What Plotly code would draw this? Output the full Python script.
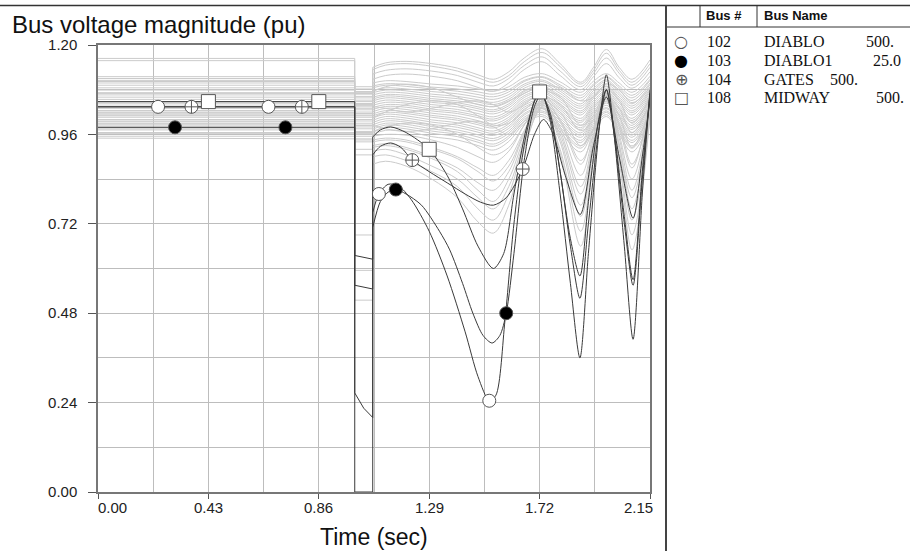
import plotly.graph_objects as go

# ------------------------------------------------------------------ data
T_START, T_FAULT, T_CLEAR, T_END = 0.0, 1.0, 1.07, 2.15

X_TICKS = [0.00, 0.43, 0.86, 1.29, 1.72, 2.15]
X_TICK_TEXT = ["0.00", "0.43", "0.86", "1.29", "1.72", "2.15"]
Y_TICKS = [0.00, 0.24, 0.48, 0.72, 0.96, 1.20]
Y_TICK_TEXT = ["0.00", "0.24", "0.48", "0.72", "0.96", "1.20"]

# ---- grey (other) buses: prefault level, level during fault, post-fault swing
GRAY_T = [1.07, 1.12, 1.20, 1.30, 1.40, 1.48, 1.54, 1.60, 1.66, 1.73, 1.80, 1.88, 1.93, 1.98, 2.03, 2.08, 2.15]

GRAY_PRE = [1.164, 1.158, 1.115, 1.110,
            1.105, 1.098, 1.092, 1.085, 1.079, 1.072, 1.066, 1.060, 1.054, 1.048, 1.042, 1.036,
            1.030, 1.024, 1.018, 1.012, 1.006, 1.000, 0.994, 0.988, 0.980, 0.972, 0.962, 0.950,
            1.020, 0.990, 1.000, 0.975, 0.965, 0.985, 1.010, 0.955,
            1.102, 1.070, 1.045, 1.015, 0.996]
GRAY_FAULT = [1.088, 1.082, 1.075, 1.070,
              1.068, 1.062, 1.058, 1.052, 1.048, 1.043, 1.038, 1.034, 1.030, 1.026, 1.020, 1.016,
              1.012, 1.006, 1.000, 0.996, 0.990, 0.984, 0.980, 0.975, 0.968, 0.962, 0.955, 0.948,
              0.595, 0.515, 0.940, 0.905, 0.920, 0.690, 0.960, 0.945,
              1.072, 1.040, 1.010, 0.985, 0.965]

top_1 = [1.140, 1.152, 1.156, 1.150, 1.138, 1.120, 1.108, 1.128, 1.165, 1.190, 1.150, 1.100, 1.140, 1.188, 1.140, 1.108, 1.160]
top_2 = [1.134, 1.146, 1.150, 1.143, 1.130, 1.112, 1.100, 1.118, 1.155, 1.180, 1.142, 1.095, 1.132, 1.178, 1.132, 1.100, 1.150]
top_3 = [1.122, 1.132, 1.136, 1.130, 1.118, 1.100, 1.090, 1.110, 1.145, 1.168, 1.130, 1.088, 1.124, 1.165, 1.124, 1.092, 1.140]
top_4 = [1.108, 1.118, 1.122, 1.116, 1.104, 1.086, 1.076, 1.098, 1.134, 1.155, 1.118, 1.080, 1.115, 1.150, 1.112, 1.084, 1.128]

band_01 = [1.098, 1.104, 1.102, 1.095, 1.090, 1.082, 1.076, 1.088, 1.113, 1.123, 1.101, 1.073, 1.103, 1.123, 1.098, 1.073, 1.116]
band_02 = [1.090, 1.096, 1.094, 1.087, 1.082, 1.074, 1.068, 1.080, 1.105, 1.115, 1.093, 1.065, 1.095, 1.115, 1.090, 1.065, 1.108]
band_03 = [1.085, 1.092, 1.089, 1.082, 1.076, 1.067, 1.061, 1.074, 1.102, 1.113, 1.088, 1.058, 1.091, 1.113, 1.085, 1.058, 1.105]
band_04 = [1.078, 1.085, 1.082, 1.075, 1.069, 1.060, 1.054, 1.067, 1.095, 1.106, 1.081, 1.051, 1.084, 1.106, 1.078, 1.051, 1.098]
band_05 = [1.072, 1.079, 1.077, 1.068, 1.062, 1.053, 1.046, 1.060, 1.090, 1.102, 1.076, 1.042, 1.078, 1.102, 1.072, 1.042, 1.094]
band_06 = [1.066, 1.073, 1.071, 1.062, 1.056, 1.047, 1.040, 1.054, 1.084, 1.096, 1.070, 1.036, 1.072, 1.096, 1.066, 1.036, 1.088]
band_07 = [1.060, 1.067, 1.065, 1.056, 1.050, 1.041, 1.034, 1.048, 1.078, 1.090, 1.064, 1.030, 1.066, 1.090, 1.060, 1.030, 1.082]
band_08 = [1.055, 1.063, 1.060, 1.051, 1.045, 1.034, 1.026, 1.042, 1.075, 1.088, 1.059, 1.023, 1.062, 1.088, 1.055, 1.023, 1.078]
band_09 = [1.050, 1.058, 1.055, 1.046, 1.040, 1.029, 1.021, 1.037, 1.070, 1.083, 1.054, 1.018, 1.057, 1.083, 1.050, 1.018, 1.073]
band_10 = [1.044, 1.052, 1.049, 1.040, 1.034, 1.023, 1.015, 1.031, 1.064, 1.077, 1.048, 1.012, 1.051, 1.077, 1.044, 1.012, 1.067]
band_11 = [1.038, 1.046, 1.044, 1.034, 1.027, 1.016, 1.007, 1.024, 1.059, 1.073, 1.042, 1.003, 1.045, 1.073, 1.038, 1.003, 1.063]
band_12 = [1.032, 1.040, 1.038, 1.028, 1.021, 1.010, 1.001, 1.018, 1.053, 1.067, 1.036, 0.997, 1.039, 1.067, 1.032, 0.997, 1.057]
band_13 = [1.027, 1.035, 1.033, 1.023, 1.016, 1.005, 0.996, 1.013, 1.048, 1.062, 1.031, 0.992, 1.034, 1.062, 1.027, 0.992, 1.052]
band_14 = [1.021, 1.030, 1.027, 1.017, 1.009, 0.997, 0.988, 1.006, 1.044, 1.059, 1.026, 0.984, 1.029, 1.059, 1.021, 0.984, 1.048]
band_15 = [1.015, 1.024, 1.021, 1.011, 1.003, 0.991, 0.982, 1.000, 1.038, 1.053, 1.020, 0.978, 1.023, 1.053, 1.015, 0.978, 1.042]
band_16 = [1.010, 1.019, 1.016, 1.006, 0.998, 0.986, 0.977, 0.995, 1.033, 1.048, 1.015, 0.973, 1.018, 1.048, 1.010, 0.973, 1.037]
band_17 = [1.004, 1.014, 1.010, 0.999, 0.991, 0.978, 0.969, 0.988, 1.028, 1.044, 1.009, 0.964, 1.012, 1.044, 1.004, 0.964, 1.033]
band_18 = [0.998, 1.008, 1.004, 0.993, 0.985, 0.972, 0.963, 0.982, 1.022, 1.038, 1.003, 0.958, 1.006, 1.038, 0.998, 0.958, 1.027]
band_19 = [0.992, 1.002, 0.998, 0.987, 0.979, 0.966, 0.957, 0.976, 1.016, 1.032, 0.997, 0.952, 1.000, 1.032, 0.992, 0.952, 1.021]
band_20 = [0.986, 0.996, 0.993, 0.981, 0.972, 0.959, 0.949, 0.969, 1.012, 1.029, 0.991, 0.944, 0.995, 1.029, 0.986, 0.944, 1.017]
band_21 = [0.980, 0.990, 0.987, 0.975, 0.966, 0.953, 0.943, 0.963, 1.006, 1.023, 0.985, 0.938, 0.989, 1.023, 0.980, 0.938, 1.011]
band_22 = [0.974, 0.985, 0.981, 0.969, 0.960, 0.945, 0.934, 0.956, 1.001, 1.019, 0.979, 0.929, 0.983, 1.019, 0.974, 0.929, 1.006]
band_23 = [0.968, 0.979, 0.975, 0.963, 0.954, 0.939, 0.928, 0.950, 0.995, 1.013, 0.973, 0.923, 0.977, 1.013, 0.968, 0.923, 1.000]
band_24 = [0.960, 0.971, 0.968, 0.954, 0.945, 0.930, 0.918, 0.941, 0.989, 1.008, 0.966, 0.913, 0.970, 1.008, 0.960, 0.913, 0.994]

low_1 = [0.930, 0.935, 0.925, 0.900, 0.870, 0.830, 0.810, 0.860, 0.960, 1.040, 0.960, 0.800, 0.940, 1.060, 0.930, 0.790, 1.030]
low_2 = [0.900, 0.905, 0.890, 0.860, 0.820, 0.760, 0.730, 0.800, 0.930, 1.030, 0.920, 0.700, 0.900, 1.050, 0.900, 0.690, 1.010]
low_3 = [0.945, 0.950, 0.945, 0.925, 0.900, 0.870, 0.850, 0.890, 0.970, 1.050, 0.980, 0.850, 0.960, 1.070, 0.960, 0.840, 1.040]
low_4 = [0.915, 0.920, 0.905, 0.875, 0.840, 0.790, 0.760, 0.820, 0.940, 1.040, 0.940, 0.740, 0.920, 1.060, 0.920, 0.730, 1.020]
low_5 = [0.925, 0.930, 0.920, 0.895, 0.860, 0.810, 0.780, 0.840, 0.950, 1.045, 0.950, 0.770, 0.930, 1.065, 0.935, 0.760, 1.030]
low_6 = [0.880, 0.888, 0.875, 0.840, 0.790, 0.725, 0.695, 0.770, 0.920, 1.035, 0.910, 0.660, 0.890, 1.060, 0.890, 0.650, 1.010]
low_7 = [0.955, 0.960, 0.958, 0.945, 0.925, 0.900, 0.885, 0.915, 0.985, 1.060, 0.995, 0.880, 0.975, 1.080, 0.980, 0.870, 1.050]
low_8 = [0.940, 0.945, 0.940, 0.920, 0.895, 0.860, 0.835, 0.875, 0.965, 1.050, 0.970, 0.820, 0.950, 1.070, 0.950, 0.810, 1.040]

# a few buses swinging out of step with the main band (crossing lines)
mix_1 = [1.075, 1.088, 1.095, 1.085, 1.060, 1.040, 1.035, 1.050, 1.070, 1.090, 1.085, 1.050, 1.060, 1.095, 1.080, 1.045, 1.085]
mix_2 = [1.035, 1.030, 1.020, 1.030, 1.045, 1.050, 1.040, 1.020, 1.040, 1.075, 1.060, 0.985, 1.010, 1.080, 1.050, 0.990, 1.060]
mix_3 = [1.005, 1.020, 1.040, 1.050, 1.040, 1.010, 0.985, 0.990, 1.025, 1.060, 1.040, 0.970, 1.000, 1.065, 1.030, 0.965, 1.045]
mix_4 = [0.985, 0.975, 0.968, 0.975, 0.990, 0.995, 0.980, 0.960, 0.995, 1.050, 1.020, 0.930, 0.975, 1.060, 1.010, 0.925, 1.030]
mix_5 = [0.965, 0.980, 0.990, 0.985, 0.960, 0.925, 0.905, 0.925, 0.985, 1.045, 1.000, 0.890, 0.960, 1.055, 0.990, 0.880, 1.025]

GRAY_POST = [top_1, top_2, top_3, top_4,
             band_01, band_02, band_03, band_04, band_05, band_06, band_07, band_08,
             band_09, band_10, band_11, band_12, band_13, band_14, band_15, band_16,
             band_17, band_18, band_19, band_20, band_21, band_22, band_23, band_24,
             low_1, low_2, low_3, low_4, low_5, low_6, low_7, low_8,
             mix_1, mix_2, mix_3, mix_4, mix_5]

# ---- highlighted buses
B102_PRE = 1.034
B102_FAULT_T = [1.0, 1.07]
B102_FAULT_V = [0.0, 0.0]
B102_T = [1.07, 1.094, 1.13, 1.17, 1.22, 1.29, 1.36, 1.43, 1.48, 1.524, 1.55, 1.585, 1.62, 1.66, 1.70, 1.725,
          1.76, 1.80, 1.84, 1.877, 1.91, 1.95, 1.98, 2.01, 2.05, 2.084, 2.12, 2.15]
B102_V = [0.75, 0.80, 0.826, 0.822, 0.785, 0.70, 0.58, 0.43, 0.31, 0.245, 0.26, 0.46, 0.72, 0.93, 1.05, 1.075,
          1.00, 0.80, 0.56, 0.36, 0.64, 0.96, 1.12, 0.96, 0.66, 0.41, 0.80, 1.08]

B103_PRE = 0.979
B103_FAULT_T = [1.0, 1.035, 1.07]
B103_FAULT_V = [0.266, 0.225, 0.20]
B103_T = [1.07, 1.10, 1.13, 1.16, 1.20, 1.26, 1.33, 1.37, 1.42, 1.46, 1.50, 1.535, 1.565, 1.59, 1.62, 1.66,
          1.70, 1.727, 1.76, 1.80, 1.84, 1.877, 1.91, 1.95, 1.98, 2.01, 2.05, 2.084, 2.12, 2.15]
B103_V = [0.71, 0.78, 0.805, 0.812, 0.80, 0.77, 0.70, 0.65, 0.56, 0.48, 0.42, 0.40, 0.42, 0.48, 0.64, 0.89,
          1.035, 1.068, 1.01, 0.86, 0.66, 0.52, 0.72, 0.97, 1.08, 0.96, 0.72, 0.555, 0.84, 1.07]

B104_PRE = 1.034
B104_FAULT_T = [1.0, 1.07]
B104_FAULT_V = [0.555, 0.545]
B104_T = [1.07, 1.10, 1.14, 1.18, 1.224, 1.29, 1.36, 1.43, 1.49, 1.54, 1.59, 1.654, 1.70, 1.735, 1.77, 1.82,
          1.878, 1.93, 1.98, 2.03, 2.084, 2.12, 2.15]
B104_V = [0.905, 0.928, 0.937, 0.925, 0.891, 0.86, 0.83, 0.80, 0.778, 0.77, 0.79, 0.867, 0.96, 1.00, 0.965, 0.85,
          0.745, 0.93, 1.06, 0.90, 0.735, 0.90, 1.05]

B108_PRE = 1.048
B108_FAULT_T = [1.0, 1.07]
B108_FAULT_V = [0.635, 0.625]
B108_T = [1.07, 1.10, 1.14, 1.20, 1.29, 1.36, 1.42, 1.48, 1.54, 1.58, 1.62, 1.67, 1.72, 1.76, 1.80, 1.84,
          1.877, 1.91, 1.95, 1.98, 2.01, 2.05, 2.084, 2.12, 2.15]
B108_V = [0.953, 0.972, 0.98, 0.965, 0.92, 0.85, 0.76, 0.66, 0.60, 0.64, 0.80, 0.98, 1.074, 1.02, 0.86, 0.68,
          0.58, 0.78, 1.00, 1.08, 0.97, 0.74, 0.57, 0.86, 1.07]

# marker positions along the highlighted curves
MK102_T = [0.234, 0.664, 1.094, 1.524]
MK102_V = [1.034, 1.034, 0.80, 0.245]
MK103_T = [0.30, 0.73, 1.16, 1.59]
MK103_V = [0.979, 0.979, 0.812, 0.48]
MK104_T = [0.364, 0.794, 1.224, 1.654]
MK104_V = [1.034, 1.034, 0.891, 0.867]
MK108_T = [0.43, 0.86, 1.29, 1.72]
MK108_V = [1.048, 1.048, 0.92, 1.074]

LEG_NUM = ["102", "103", "104", "108"]
LEG_NAME = ["DIABLO", "DIABLO1", "GATES", "MIDWAY"]
LEG_KV = ["500.", "25.0", "500.", "500."]
LEG_SYM = ["\u25CB", "\u25CF", "\u2295", "\u25A1"]

# ------------------------------------------------------------------ layout geometry
W, H = 910, 551
ML, MR, MT, MB = 98, 260, 45, 59
PW, PH = W - ML - MR, H - MT - MB


def px(x):
    return (x - ML) / PW


def py(y):
    return (H - MB - y) / PH


SANS = "Liberation Sans, Arial, sans-serif"
SERIF = "Liberation Serif, Times New Roman, serif"
GRAY = "#cbcbcb"
DARK = "#3a3a3a"


def linear_part(pre, ft, fv, post0):
    xs = [T_START, T_FAULT] + list(ft) + [T_CLEAR]
    ys = [pre, pre] + list(fv) + [post0]
    return xs, ys


fig = go.Figure()

# grey buses
gx_lin, gy_lin, gx_sp, gy_sp = [], [], [], []
for pre, flt, post in zip(GRAY_PRE, GRAY_FAULT, GRAY_POST):
    xs, ys = linear_part(pre, [T_FAULT, T_CLEAR], [flt, flt], post[0])
    gx_lin += xs + [None]
    gy_lin += ys + [None]
    gx_sp += GRAY_T + [None]
    gy_sp += post + [None]

fig.add_trace(go.Scatter(x=gx_lin, y=gy_lin, mode="lines", line=dict(color=GRAY, width=1),
                         hoverinfo="skip", showlegend=False))
fig.add_trace(go.Scatter(x=gx_sp, y=gy_sp, mode="lines",
                         line=dict(color=GRAY, width=1, shape="spline", smoothing=1.0),
                         hoverinfo="skip", showlegend=False))

# highlighted buses
for pre, ft, fv, tt, vv in [
    (B102_PRE, B102_FAULT_T, B102_FAULT_V, B102_T, B102_V),
    (B103_PRE, B103_FAULT_T, B103_FAULT_V, B103_T, B103_V),
    (B104_PRE, B104_FAULT_T, B104_FAULT_V, B104_T, B104_V),
    (B108_PRE, B108_FAULT_T, B108_FAULT_V, B108_T, B108_V),
]:
    xs, ys = linear_part(pre, ft, fv, vv[0])
    fig.add_trace(go.Scatter(x=xs, y=ys, mode="lines", line=dict(color=DARK, width=1),
                             hoverinfo="skip", showlegend=False))
    fig.add_trace(go.Scatter(x=tt, y=vv, mode="lines",
                             line=dict(color=DARK, width=1, shape="spline", smoothing=0.8),
                             hoverinfo="skip", showlegend=False))

# markers
for t, v, sym, fill, size in [
    (MK102_T, MK102_V, "circle", "white", 13),
    (MK103_T, MK103_V, "circle", "black", 13),
    (MK104_T, MK104_V, "circle-cross", "white", 13),
    (MK108_T, MK108_V, "square", "white", 14),
]:
    fig.add_trace(go.Scatter(x=t, y=v, mode="markers",
                             marker=dict(symbol=sym, size=size, color=fill,
                                         line=dict(color="#555555", width=1)),
                             hoverinfo="skip", showlegend=False))

annotations = []
# title
annotations.append(dict(x=px(10), y=py(25), xref="paper", yref="paper", xanchor="left", yanchor="middle",
                        text="Bus voltage magnitude (pu)", showarrow=False,
                        font=dict(family=SANS, size=24, color="#111")))
# x axis title
annotations.append(dict(x=0.5, y=py(537), xref="paper", yref="paper", xanchor="center", yanchor="middle",
                        text="Time (sec)", showarrow=False, font=dict(family=SANS, size=23, color="#111")))
# x tick labels
for i, (tv, tt) in enumerate(zip(X_TICKS, X_TICK_TEXT)):
    shift = 14 if i == 0 else (-12 if i == len(X_TICKS) - 1 else 0)
    annotations.append(dict(x=tv, y=py(507), xref="x", yref="paper", xanchor="center", yanchor="middle",
                            xshift=shift, text=tt, showarrow=False,
                            font=dict(family=SANS, size=15, color="#222")))

# legend table
annotations.append(dict(x=px(704), y=py(16), xref="paper", yref="paper", xanchor="left", yanchor="middle",
                        text="<b>Bus #</b>", showarrow=False, font=dict(family=SANS, size=13, color="#111")))
annotations.append(dict(x=px(762), y=py(16), xref="paper", yref="paper", xanchor="left", yanchor="middle",
                        text="<b>Bus Name</b>", showarrow=False, font=dict(family=SANS, size=13, color="#111")))
row_y = [42, 60.5, 79, 97.5]
kv_x = [864, 871, 828, 874]
for i in range(4):
    yy = py(row_y[i])
    sym_col = "#000" if i == 1 else "#555"
    annotations.append(dict(x=px(681), y=yy, xref="paper", yref="paper", xanchor="center", yanchor="middle",
                            text=LEG_SYM[i], showarrow=False,
                            font=dict(family="DejaVu Sans", size=16, color=sym_col)))
    annotations.append(dict(x=px(705), y=yy, xref="paper", yref="paper", xanchor="left", yanchor="middle",
                            text=LEG_NUM[i], showarrow=False, font=dict(family=SERIF, size=16, color="#111")))
    annotations.append(dict(x=px(762), y=yy, xref="paper", yref="paper", xanchor="left", yanchor="middle",
                            text=LEG_NAME[i], showarrow=False, font=dict(family=SERIF, size=16, color="#111")))
    annotations.append(dict(x=px(kv_x[i]), y=yy, xref="paper", yref="paper", xanchor="left", yanchor="middle",
                            text=LEG_KV[i], showarrow=False, font=dict(family=SERIF, size=16, color="#111")))

shapes = [
    dict(type="line", xref="paper", yref="paper", x0=px(0), x1=px(W), y0=py(5.5), y1=py(5.5),
         line=dict(color="#333", width=1.5)),
    dict(type="line", xref="paper", yref="paper", x0=px(666), x1=px(666), y0=py(5.5), y1=py(H),
         line=dict(color="#444", width=2)),
    dict(type="line", xref="paper", yref="paper", x0=px(667), x1=px(W), y0=py(27), y1=py(27),
         line=dict(color="#333", width=1)),
    dict(type="line", xref="paper", yref="paper", x0=px(700), x1=px(700), y0=py(5.5), y1=py(27),
         line=dict(color="#333", width=1)),
    dict(type="line", xref="paper", yref="paper", x0=px(757), x1=px(757), y0=py(5.5), y1=py(27),
         line=dict(color="#333", width=1)),
]

fig.update_layout(
    width=W, height=H,
    margin=dict(l=ML, r=MR, t=MT, b=MB),
    paper_bgcolor="white", plot_bgcolor="white",
    showlegend=False,
    annotations=annotations,
    shapes=shapes,
    xaxis=dict(range=[T_START, T_END], tickvals=X_TICKS, showticklabels=False,
               ticks="outside", ticklen=5, tickcolor="#555",
               showgrid=True, gridcolor="#bdbdbd", gridwidth=1,
               minor=dict(dtick=0.215, tick0=0, showgrid=True, gridcolor="#bdbdbd", gridwidth=1, ticks=""),
               showline=True, linecolor="#777", linewidth=1.5, mirror=True, zeroline=False),
    yaxis=dict(range=[0, 1.2], tickvals=Y_TICKS, ticktext=Y_TICK_TEXT,
               ticks="outside", ticklen=8, tickcolor="#555", ticklabelstandoff=8,
               tickfont=dict(family=SANS, size=15, color="#222"),
               showgrid=True, gridcolor="#bdbdbd", gridwidth=1,
               minor=dict(dtick=0.12, tick0=0, showgrid=True, gridcolor="#bdbdbd", gridwidth=1, ticks=""),
               showline=True, linecolor="#777", linewidth=1.5, mirror=True, zeroline=False),
)

fig.write_html("out.html")
